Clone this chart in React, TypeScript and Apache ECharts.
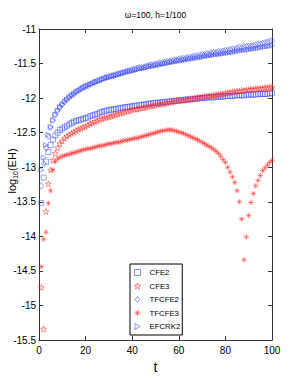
import React, { useEffect, useRef } from 'react';
import * as echarts from 'echarts';

const T_STEPS = Array.from({ length: 100 }, (_, i) => i + 1);

const CFE2 = [
  -13.52, -13.15, -12.92, -12.78, -12.68, -12.6, -12.54, -12.5, -12.46, -12.44,
  -12.42, -12.4, -12.38, -12.36, -12.34, -12.33, -12.32, -12.31, -12.3, -12.29,
  -12.28, -12.26, -12.25, -12.24, -12.23, -12.21, -12.2, -12.19, -12.18, -12.17,
  -12.17, -12.16, -12.16, -12.15, -12.14, -12.14, -12.13, -12.13, -12.12, -12.12,
  -12.11, -12.11, -12.1, -12.1, -12.09, -12.09, -12.08, -12.08, -12.07, -12.07,
  -12.07, -12.06, -12.06, -12.06, -12.05, -12.05, -12.04, -12.04, -12.04, -12.03,
  -12.03, -12.03, -12.02, -12.02, -12.02, -12.01, -12.01, -12.01, -12.0, -12.0,
  -12.0, -11.99, -11.99, -11.99, -11.99, -11.98, -11.98, -11.98, -11.98, -11.97,
  -11.97, -11.97, -11.97, -11.96, -11.96, -11.96, -11.96, -11.96, -11.95, -11.95,
  -11.95, -11.95, -11.95, -11.94, -11.94, -11.94, -11.94, -11.94, -11.93, -11.93,
];

const CFE3 = [
  -14.74, -15.34, -13.64, -13.24, -13.04, -12.9, -12.8, -12.72, -12.66, -12.62,
  -12.58, -12.55, -12.53, -12.51, -12.49, -12.47, -12.45, -12.44, -12.42, -12.41,
  -12.39, -12.37, -12.36, -12.34, -12.33, -12.31, -12.3, -12.29, -12.28, -12.27,
  -12.26, -12.25, -12.24, -12.23, -12.22, -12.21, -12.2, -12.19, -12.18, -12.17,
  -12.16, -12.16, -12.15, -12.14, -12.14, -12.13, -12.12, -12.11, -12.11, -12.1,
  -12.09, -12.09, -12.08, -12.08, -12.07, -12.06, -12.06, -12.05, -12.04, -12.04,
  -12.03, -12.03, -12.02, -12.02, -12.01, -12.01, -12.0, -11.99, -11.99, -11.98,
  -11.98, -11.97, -11.97, -11.96, -11.96, -11.95, -11.95, -11.94, -11.94, -11.93,
  -11.92, -11.92, -11.91, -11.91, -11.9, -11.9, -11.89, -11.89, -11.88, -11.88,
  -11.87, -11.87, -11.87, -11.86, -11.86, -11.86, -11.85, -11.85, -11.84, -11.84,
];

const TFCFE2 = [
  -13.27, -12.95, -12.72, -12.55, -12.42, -12.32, -12.24, -12.18, -12.13, -12.09,
  -12.05, -12.02, -11.99, -11.96, -11.94, -11.91, -11.89, -11.87, -11.85, -11.83,
  -11.82, -11.8, -11.78, -11.77, -11.75, -11.74, -11.73, -11.71, -11.7, -11.69,
  -11.68, -11.67, -11.66, -11.65, -11.64, -11.63, -11.62, -11.61, -11.6, -11.59,
  -11.58, -11.57, -11.56, -11.56, -11.55, -11.54, -11.53, -11.52, -11.52, -11.51,
  -11.5, -11.49, -11.49, -11.48, -11.47, -11.47, -11.46, -11.45, -11.45, -11.44,
  -11.43, -11.43, -11.42, -11.41, -11.41, -11.4, -11.39, -11.39, -11.38, -11.37,
  -11.37, -11.36, -11.36, -11.35, -11.34, -11.34, -11.33, -11.33, -11.32, -11.31,
  -11.31, -11.3, -11.29, -11.29, -11.28, -11.27, -11.27, -11.26, -11.25, -11.25,
  -11.25, -11.24, -11.23, -11.22, -11.22, -11.21, -11.2, -11.19, -11.18, -11.17,
];

const TFCFE3 = [
  -14.44, -14.04, -13.94, -13.52, -13.34, -13.04, -12.92, -12.88, -12.86, -12.84,
  -12.83, -12.82, -12.81, -12.8, -12.79, -12.78, -12.77, -12.76, -12.75, -12.74,
  -12.73, -12.73, -12.72, -12.71, -12.7, -12.69, -12.69, -12.68, -12.67, -12.66,
  -12.66, -12.65, -12.64, -12.64, -12.63, -12.62, -12.61, -12.61, -12.6, -12.59,
  -12.58, -12.58, -12.57, -12.56, -12.55, -12.54, -12.53, -12.52, -12.51, -12.5,
  -12.49, -12.48, -12.47, -12.47, -12.46, -12.46, -12.46, -12.47, -12.48, -12.49,
  -12.5, -12.51, -12.53, -12.54, -12.56, -12.57, -12.59, -12.6, -12.62, -12.64,
  -12.66, -12.68, -12.7, -12.72, -12.74, -12.77, -12.8, -12.84, -12.89, -12.93,
  -13.0, -13.07, -13.14, -13.22, -13.34, -13.5, -13.75, -14.34, -14.01, -13.7,
  -13.51, -13.38, -13.27, -13.19, -13.12, -13.05, -13.01, -12.97, -12.93, -12.9,
];

const EFCRK2 = [
  -13.04, -12.86, -12.68, -12.53, -12.42, -12.32, -12.24, -12.18, -12.13, -12.09,
  -12.05, -12.02, -11.99, -11.96, -11.94, -11.91, -11.89, -11.87, -11.85, -11.83,
  -11.82, -11.8, -11.79, -11.77, -11.76, -11.75, -11.73, -11.72, -11.71, -11.7,
  -11.69, -11.68, -11.67, -11.66, -11.65, -11.64, -11.63, -11.62, -11.61, -11.61,
  -11.6, -11.59, -11.58, -11.57, -11.57, -11.56, -11.55, -11.54, -11.54, -11.53,
  -11.52, -11.52, -11.51, -11.5, -11.5, -11.49, -11.48, -11.48, -11.47, -11.46,
  -11.46, -11.45, -11.45, -11.44, -11.43, -11.43, -11.42, -11.42, -11.41, -11.41,
  -11.4, -11.39, -11.39, -11.38, -11.38, -11.37, -11.37, -11.36, -11.36, -11.35,
  -11.35, -11.34, -11.34, -11.33, -11.32, -11.32, -11.31, -11.31, -11.3, -11.3,
  -11.29, -11.29, -11.28, -11.28, -11.27, -11.26, -11.26, -11.25, -11.25, -11.24,
];

const SERIES_NAMES = ['CFE2', 'CFE3', 'TFCFE2', 'TFCFE3', 'EFCRK2'];
const TITLE = 'ω=100, h=1/100';
const X_NAME = 't';

const FONT = "'Liberation Sans', Arial, Helvetica, sans-serif";
const BLUE = '#2a3cff';
const RED = '#ff2020';

const SQUARE_PATH = 'path://M-1,-1L1,-1L1,1L-1,1Z';
const DIAMOND_PATH = 'path://M0,-1.3L1,0L0,1.3L-1,0Z';
const STAR_PATH =
  'path://M0,-1L0.225,-0.309L0.951,-0.309L0.363,0.118L0.588,0.809L0,0.382L-0.588,0.809L-0.363,0.118L-0.951,-0.309L-0.225,-0.309Z';
const ASTERISK_PATH =
  'path://M0,-1L0,1M-1,0L1,0M-0.7,-0.7L0.7,0.7M-0.7,0.7L0.7,-0.7';
const TRI_RIGHT_PATH = 'path://M-0.7,-1L1,0L-0.7,1Z';

const SYMBOLS = [SQUARE_PATH, STAR_PATH, DIAMOND_PATH, ASTERISK_PATH, TRI_RIGHT_PATH];
const COLORS = [BLUE, RED, BLUE, RED, BLUE];
const SIZES: (number | number[])[] = [5, 6, [5, 6.5], 5.5, 5];
const VALUES = [CFE2, CFE3, TFCFE2, TFCFE3, EFCRK2];

function pts(vals: number[]) {
  return vals.map((v, i) => [T_STEPS[i], v]);
}

export default function App() {
  const ref = useRef<HTMLDivElement>(null);
  useEffect(() => {
    const chart = echarts.init(ref.current!, null, { renderer: 'svg' });
    const markStyle = (c: string) => ({
      color: 'rgba(0,0,0,0)',
      borderColor: c,
      borderWidth: 0.6,
      opacity: 0.8,
    });
    const axisCommon = {
      type: 'value' as const,
      splitLine: { show: false },
      axisLine: { show: true, onZero: false, lineStyle: { color: '#333', width: 1 } },
      axisTick: { show: true, inside: true, length: 4, lineStyle: { color: '#333' } },
    };
    chart.setOption({
      animation: false,
      backgroundColor: '#fff',
      title: {
        text: TITLE,
        left: 155.5,
        top: 10,
        padding: 0,
        textAlign: 'center',
        textStyle: { fontSize: 8.5, fontWeight: 'normal', color: '#000', fontFamily: FONT },
      },
      grid: { left: 39, top: 29, width: 233, height: 311, show: false },
      xAxis: [
        {
          ...axisCommon,
          min: 0,
          max: 100,
          interval: 20,
          position: 'bottom',
          name: X_NAME,
          nameLocation: 'middle',
          nameGap: 12,
          nameTextStyle: { fontSize: 14, color: '#000', fontFamily: FONT },
          axisLabel: { fontSize: 10, color: '#000', margin: 5, fontFamily: FONT },
        },
        {
          ...axisCommon,
          min: 0,
          max: 100,
          interval: 20,
          position: 'top',
          axisLabel: { show: false },
        },
      ],
      yAxis: [
        {
          ...axisCommon,
          min: -15.5,
          max: -11,
          interval: 0.5,
          position: 'left',
          axisLabel: { fontSize: 10, color: '#000', margin: 3, fontFamily: FONT },
        },
        {
          ...axisCommon,
          min: -15.5,
          max: -11,
          interval: 0.5,
          position: 'right',
          axisLabel: { show: false },
        },
      ],
      graphic: [
        {
          type: 'text',
          x: 12,
          y: 171,
          rotation: Math.PI / 2,
          style: {
            text: '{a|log}{b|10}{a|(EH)}',
            align: 'center',
            verticalAlign: 'middle',
            rich: {
              a: { fontSize: 11, fontFamily: FONT, fill: '#000', lineHeight: 13, verticalAlign: 'middle' },
              b: { fontSize: 7, fontFamily: FONT, fill: '#000', lineHeight: 13, verticalAlign: 'bottom', padding: [5, 0, 0, 0] },
            },
          },
        },
      ],
      legend: {
        left: 130,
        top: 264,
        orient: 'vertical',
        padding: [4, 2, 4, 4],
        itemGap: 4.5,
        itemWidth: 14,
        itemHeight: 6,
        borderColor: '#000',
        borderWidth: 1,
        backgroundColor: '#fff',
        borderRadius: 0,
        textStyle: { fontSize: 7.8, color: '#000', fontFamily: FONT, lineHeight: 9 },
        data: SERIES_NAMES.map((name, i) => ({
          name,
          icon: SYMBOLS[i],
          itemStyle: { color: 'rgba(0,0,0,0)', borderColor: COLORS[i], borderWidth: 0.7 },
        })),
      },
      series: SERIES_NAMES.map((name, i) => ({
        name,
        type: 'scatter',
        data: pts(VALUES[i]),
        symbol: SYMBOLS[i],
        symbolSize: SIZES[i],
        itemStyle: markStyle(COLORS[i]),
      })),
    });
    return () => chart.dispose();
  }, []);
  return <div ref={ref} style={{ position: 'fixed', left: 0, top: 0, width: 300, height: 382 }} />;
}
